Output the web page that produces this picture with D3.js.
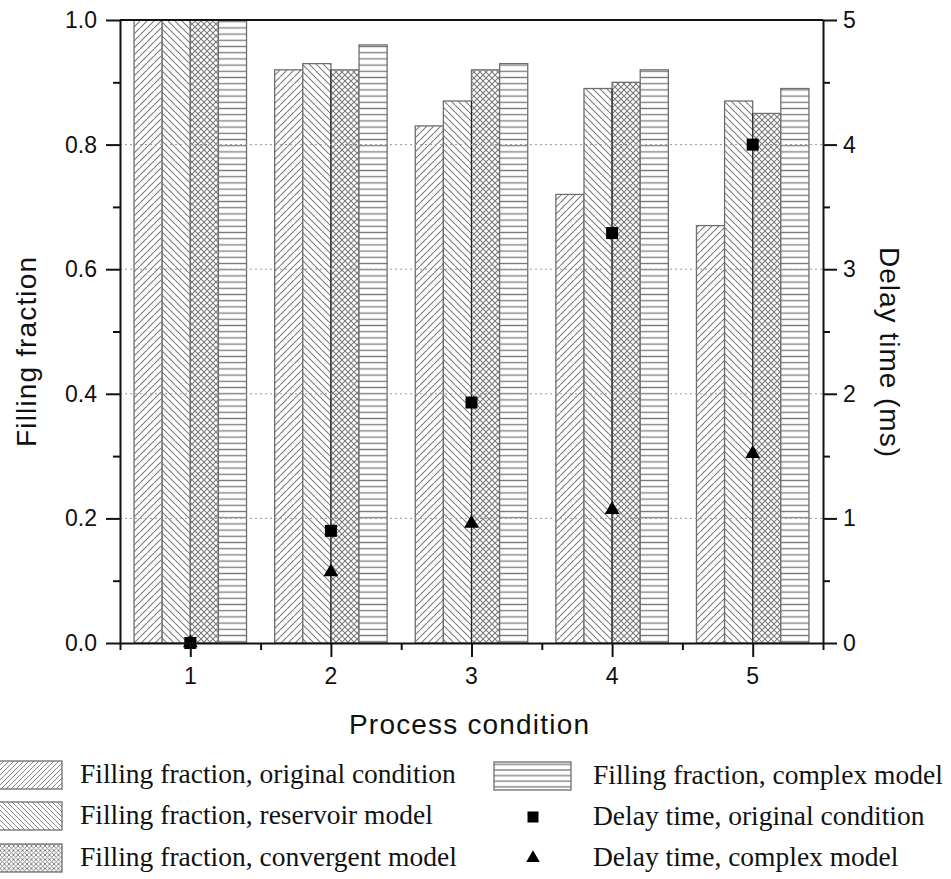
<!DOCTYPE html>
<html>
<head>
<meta charset="utf-8">
<script src="https://cdn.jsdelivr.net/npm/d3@7"></script>
<style>
  body { margin: 0; background: #fff; }
  svg { display: block; }
  .tick-label { font-family: "Liberation Sans", Arial, sans-serif; font-size: 23px; fill: #111; }
  .axis-title { font-family: "Liberation Sans", Arial, sans-serif; font-size: 28px; fill: #111; }
  .legend-text { font-family: "Liberation Serif", "Times New Roman", serif; font-size: 27.5px; fill: #111; }
</style>
</head>
<body>
<script>
// data
const conditions = [1, 2, 3, 4, 5];
const fillOriginal = [1.0, 0.92, 0.83, 0.72, 0.67];
const fillReservoir = [1.0, 0.93, 0.87, 0.89, 0.87];
const fillConvergent = [1.0, 0.92, 0.92, 0.9, 0.85];
const fillComplex = [1.0, 0.96, 0.93, 0.92, 0.89];
const delayOriginal = [0, 0.9, 1.93, 3.29, 4.0];
const delayComplex = [0, 0.57, 0.96, 1.07, 1.52];
const leftTicks = [0, 0.2, 0.4, 0.6, 0.8, 1.0];
const rightTicks = [0, 1, 2, 3, 4, 5];

const barSeries = [
  { name: "Filling fraction, original condition", values: fillOriginal, pattern: "p-orig" },
  { name: "Filling fraction, reservoir model", values: fillReservoir, pattern: "p-res" },
  { name: "Filling fraction, convergent model", values: fillConvergent, pattern: "p-conv" },
  { name: "Filling fraction, complex model", values: fillComplex, pattern: "p-comp" },
];

const width = 951;
const height = 879;
const plotLeft = 120, plotRight = 823, plotTop = 20, plotBottom = 643;

const svg = d3.select("body").append("svg")
  .attr("width", width)
  .attr("height", height);

const x = d3.scaleLinear().domain([0.5, 5.5]).range([plotLeft, plotRight]);
const y = d3.scaleLinear().domain([0, 1]).range([plotBottom, plotTop]);
const y2 = d3.scaleLinear().domain([0, 5]).range([plotBottom, plotTop]);
const barW = x(0.7) - x(0.5);

// hatch patterns
const defs = svg.append("defs");
const hatchColor = "#7a7a7a";

function diagPattern(id, size, dirs, sw) {
  const p = defs.append("pattern")
    .attr("id", id)
    .attr("patternUnits", "userSpaceOnUse")
    .attr("width", size)
    .attr("height", size);
  p.append("rect").attr("width", size).attr("height", size).attr("fill", "#fff");
  dirs.forEach((d) => {
    const segs = d === "up"
      ? [[0, size, size, 0], [-size, size, 0, 0], [size, 2 * size, 2 * size, size]]
      : [[0, 0, size, size], [-size, 0, 0, size], [size, 0, 2 * size, size]];
    segs.forEach((s) => {
      p.append("line")
        .attr("x1", s[0]).attr("y1", s[1]).attr("x2", s[2]).attr("y2", s[3])
        .attr("stroke", hatchColor).attr("stroke-width", sw);
    });
  });
}
diagPattern("p-orig", 7, ["up"], 1.1);
diagPattern("p-res", 7, ["down"], 1.1);
diagPattern("p-conv", 6, ["up", "down"], 1.1);
diagPattern("l-orig", 5, ["up"], 0.9);
diagPattern("l-res", 5, ["down"], 0.9);
diagPattern("l-conv", 4.5, ["up", "down"], 0.9);

function horizPattern(id, step) {
  const p = defs.append("pattern")
    .attr("id", id)
    .attr("patternUnits", "userSpaceOnUse")
    .attr("width", 8)
    .attr("height", step);
  p.append("rect").attr("width", 8).attr("height", step).attr("fill", "#fff");
  p.append("line").attr("x1", 0).attr("x2", 8).attr("y1", step / 2).attr("y2", step / 2)
    .attr("stroke", hatchColor).attr("stroke-width", 1.3);
}
horizPattern("p-comp", 6.2);
horizPattern("l-comp", 5.6);

// bars
const barG = svg.append("g");
barSeries.forEach((s, i) => {
  barG.selectAll(null)
    .data(s.values)
    .enter()
    .append("rect")
    .attr("x", (d, j) => x(conditions[j]) + (i - 2) * barW)
    .attr("y", (d) => y(d))
    .attr("width", barW)
    .attr("height", (d) => y(0) - y(d))
    .attr("fill", `url(#${s.pattern})`)
    .attr("stroke", "#6e6e6e")
    .attr("stroke-width", 1.3);
});

// darker centre line where delay markers sit
svg.append("g").selectAll("line")
  .data(conditions.filter((c, j) => delayOriginal[j] > 0))
  .enter()
  .append("line")
  .attr("x1", (d) => x(d)).attr("x2", (d) => x(d))
  .attr("y1", y(0))
  .attr("y2", (d) => y(Math.min(fillReservoir[d - 1], fillConvergent[d - 1])))
  .attr("stroke", "#222")
  .attr("stroke-width", 1);

// dotted grid on top of bars
svg.append("g").selectAll("line")
  .data([0.2, 0.4, 0.6, 0.8])
  .enter()
  .append("line")
  .attr("x1", plotLeft).attr("x2", plotRight)
  .attr("y1", (d) => y(d)).attr("y2", (d) => y(d))
  .attr("stroke", "#9a9a9a")
  .attr("stroke-width", 1)
  .attr("stroke-dasharray", "2,3");

// delay markers
const sq = 12;
svg.append("g").selectAll("rect")
  .data(delayOriginal)
  .enter()
  .append("rect")
  .attr("x", (d, j) => x(conditions[j]) - sq / 2)
  .attr("y", (d) => y2(d) - sq / 2)
  .attr("width", sq)
  .attr("height", sq)
  .attr("fill", "#000");

const tri = d3.symbol().type(d3.symbolTriangle).size(95);
svg.append("g").selectAll("path")
  .data(delayComplex)
  .enter()
  .append("path")
  .attr("d", tri)
  .attr("transform", (d, j) => `translate(${x(conditions[j])},${y2(d)})`)
  .attr("fill", "#000");

// frame
svg.append("line").attr("x1", plotLeft).attr("x2", plotRight).attr("y1", plotTop).attr("y2", plotTop)
  .attr("stroke", "#111").attr("stroke-width", 2);

// axes
const leftAxis = d3.axisLeft(y)
  .tickValues(d3.range(0, 1.01, 0.1))
  .tickFormat((d) => "")
  .tickSizeOuter(0);
const gl = svg.append("g").attr("transform", `translate(${plotLeft},0)`).call(leftAxis);

const rightAxis = d3.axisRight(y2)
  .tickValues(d3.range(0, 5.01, 0.5))
  .tickFormat((d) => "")
  .tickSizeOuter(0);
const gr = svg.append("g").attr("transform", `translate(${plotRight},0)`).call(rightAxis);

const bottomAxis = d3.axisBottom(x)
  .tickValues(d3.range(0.5, 5.51, 0.5))
  .tickFormat((d) => "")
  .tickSizeOuter(0);
const gb = svg.append("g").attr("transform", `translate(0,${plotBottom})`).call(bottomAxis);

[gl, gr, gb].forEach((g) => {
  g.select(".domain").attr("stroke", "#111").attr("stroke-width", 2);
  g.selectAll(".tick line").attr("stroke", "#111").attr("stroke-width", 2);
});
gl.selectAll(".tick line").attr("x2", (d) => (Math.round(d * 10) % 2 === 0 ? -14 : -7));
gr.selectAll(".tick line").attr("x2", (d) => (Math.round(d * 2) % 2 === 0 ? 14 : 7));
gb.selectAll(".tick line").attr("y2", (d) => (Math.round(d * 2) % 2 === 0 ? 14 : 7));

// tick labels
svg.append("g").selectAll("text")
  .data(leftTicks)
  .enter()
  .append("text")
  .attr("class", "tick-label")
  .attr("x", plotLeft - 23)
  .attr("y", (d) => y(d) + 8)
  .attr("text-anchor", "end")
  .text((d) => d3.format(".1f")(d));

svg.append("g").selectAll("text")
  .data(rightTicks)
  .enter()
  .append("text")
  .attr("class", "tick-label")
  .attr("x", plotRight + 20)
  .attr("y", (d) => y2(d) + 8)
  .text((d) => d);

svg.append("g").selectAll("text")
  .data(conditions)
  .enter()
  .append("text")
  .attr("class", "tick-label")
  .attr("x", (d) => x(d))
  .attr("y", plotBottom + 41)
  .attr("text-anchor", "middle")
  .text((d) => d);

// axis titles
svg.append("text")
  .attr("class", "axis-title")
  .attr("x", 469)
  .attr("y", 734)
  .attr("text-anchor", "middle")
  .attr("textLength", 240)
  .attr("lengthAdjust", "spacing")
  .text("Process condition");

svg.append("text")
  .attr("class", "axis-title")
  .attr("transform", "translate(36,352) rotate(-90)")
  .attr("text-anchor", "middle")
  .attr("textLength", 190)
  .attr("lengthAdjust", "spacing")
  .text("Filling fraction");

svg.append("text")
  .attr("class", "axis-title")
  .attr("transform", "translate(880,352) rotate(90)")
  .attr("text-anchor", "middle")
  .attr("textLength", 210)
  .attr("lengthAdjust", "spacing")
  .text("Delay time (ms)");

// legend
const legendItems = [
  { name: barSeries[0].name, kind: "bar", pattern: "l-orig", sx: -15, tx: 80, cy: 775 },
  { name: barSeries[1].name, kind: "bar", pattern: "l-res", sx: -15, tx: 80, cy: 816 },
  { name: barSeries[2].name, kind: "bar", pattern: "l-conv", sx: -15, tx: 80, cy: 858 },
  { name: barSeries[3].name, kind: "bar", pattern: "l-comp", sx: 494, tx: 593, cy: 776 },
  { name: "Delay time, original condition", kind: "square", sx: 494, tx: 593, cy: 817 },
  { name: "Delay time, complex model", kind: "triangle", sx: 494, tx: 593, cy: 858 },
];

const lg = svg.append("g");
legendItems.forEach((d) => {
  if (d.kind === "bar") {
    lg.append("rect")
      .attr("x", d.sx)
      .attr("y", d.cy - 14)
      .attr("width", 77)
      .attr("height", 28)
      .attr("fill", `url(#${d.pattern})`)
      .attr("stroke", "#6e6e6e")
      .attr("stroke-width", 1.3);
  } else if (d.kind === "square") {
    lg.append("rect")
      .attr("x", d.sx + 39 - 5.5)
      .attr("y", d.cy - 5.5)
      .attr("width", 11)
      .attr("height", 11)
      .attr("fill", "#000");
  } else {
    lg.append("path")
      .attr("d", d3.symbol().type(d3.symbolTriangle).size(80))
      .attr("transform", `translate(${d.sx + 39},${d.cy})`)
      .attr("fill", "#000");
  }
  lg.append("text")
    .attr("class", "legend-text")
    .attr("x", d.tx)
    .attr("y", d.cy + 8)
    .text(d.name);
});
</script>
</body>
</html>
